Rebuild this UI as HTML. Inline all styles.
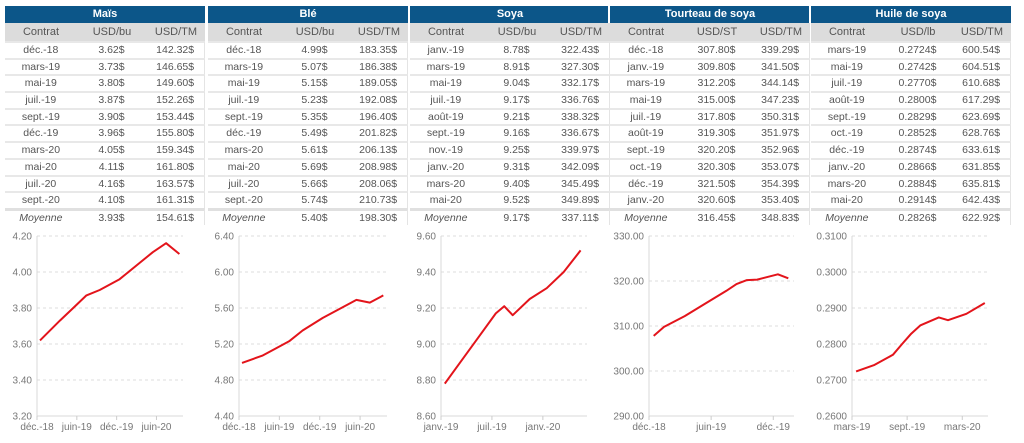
<!DOCTYPE html>
<html><head><meta charset="utf-8">
<style>
body{margin:0;width:1024px;height:443px;background:#fff;font-family:"Liberation Sans",sans-serif;overflow:hidden;position:relative}
.tbl{position:absolute;top:6px;width:200px;font-size:10.5px;color:#555}
.hd{height:17px;background:#0c5689;color:#fff;font-weight:bold;font-size:11px;text-align:center;line-height:17px}
.sh{height:18px;background:#dcdcdc;color:#555;display:flex;line-height:18px;font-size:11px}
.row{height:14.7px;border-top:2px solid #e8e8e8;display:flex;line-height:14.7px;border-right:1px solid #e4e4e4}
.row.avg{border-top:3px solid #e0e0e0;height:14px}
.c1{width:72px;text-align:center}.c2{width:70px;text-align:center}.c3{width:58px;text-align:center}
.avg .c1{font-style:italic}
svg{position:absolute;left:0;top:0}
</style></head><body>
<div id="tables"></div>
<svg id="charts" width="1024" height="443"></svg>
<script>
const tableTitles=["Maïs","Blé","Soya","Tourteau de soya","Huile de soya"];
const tableUnits=["USD/bu","USD/bu","USD/bu","USD/ST","USD/lb"];
const tableLefts=[5,208,410,610,811];
const maisContracts=["déc.-18","mars-19","mai-19","juil.-19","sept.-19","déc.-19","mars-20","mai-20","juil.-20","sept.-20"];
const maisPrice=["3.62$","3.73$","3.80$","3.87$","3.90$","3.96$","4.05$","4.11$","4.16$","4.10$"];
const maisTM=["142.32$","146.65$","149.60$","152.26$","153.44$","155.80$","159.34$","161.80$","163.57$","161.31$"];
const bleContracts=maisContracts;
const blePrice=["4.99$","5.07$","5.15$","5.23$","5.35$","5.49$","5.61$","5.69$","5.66$","5.74$"];
const bleTM=["183.35$","186.38$","189.05$","192.08$","196.40$","201.82$","206.13$","208.98$","208.06$","210.73$"];
const soyaContracts=["janv.-19","mars-19","mai-19","juil.-19","août-19","sept.-19","nov.-19","janv.-20","mars-20","mai-20"];
const soyaPrice=["8.78$","8.91$","9.04$","9.17$","9.21$","9.16$","9.25$","9.31$","9.40$","9.52$"];
const soyaTM=["322.43$","327.30$","332.17$","336.76$","338.32$","336.67$","339.97$","342.09$","345.49$","349.89$"];
const tourContracts=["déc.-18","janv.-19","mars-19","mai-19","juil.-19","août-19","sept.-19","oct.-19","déc.-19","janv.-20"];
const tourPrice=["307.80$","309.80$","312.20$","315.00$","317.80$","319.30$","320.20$","320.30$","321.50$","320.60$"];
const tourTM=["339.29$","341.50$","344.14$","347.23$","350.31$","351.97$","352.96$","353.07$","354.39$","353.40$"];
const huileContracts=["mars-19","mai-19","juil.-19","août-19","sept.-19","oct.-19","déc.-19","janv.-20","mars-20","mai-20"];
const huilePrice=["0.2724$","0.2742$","0.2770$","0.2800$","0.2829$","0.2852$","0.2874$","0.2866$","0.2884$","0.2914$"];
const huileTM=["600.54$","604.51$","610.68$","617.29$","623.69$","628.76$","633.61$","631.85$","635.81$","642.43$"];
const avgPrice=["3.93$","5.40$","9.17$","316.45$","0.2826$"];
const avgTM=["154.61$","198.30$","337.11$","348.83$","622.92$"];

// chart data
const maisMonths=["2018-12","2019-03","2019-05","2019-07","2019-09","2019-12","2020-03","2020-05","2020-07","2020-09"];
const maisValues=[3.62,3.73,3.80,3.87,3.90,3.96,4.05,4.11,4.16,4.10];
const bleMonths=maisMonths;
const bleValues=[4.99,5.07,5.15,5.23,5.35,5.49,5.61,5.69,5.66,5.74];
const soyaMonths=["2019-01","2019-03","2019-05","2019-07","2019-08","2019-09","2019-11","2020-01","2020-03","2020-05"];
const soyaValues=[8.78,8.91,9.04,9.17,9.21,9.16,9.25,9.31,9.40,9.52];
const tourMonths=["2018-12","2019-01","2019-03","2019-05","2019-07","2019-08","2019-09","2019-10","2019-12","2020-01"];
const tourValues=[307.8,309.8,312.2,315.0,317.8,319.3,320.2,320.3,321.5,320.6];
const huileMonths=["2019-03","2019-05","2019-07","2019-08","2019-09","2019-10","2019-12","2020-01","2020-03","2020-05"];
const huileValues=[0.2724,0.2742,0.2770,0.2800,0.2829,0.2852,0.2874,0.2866,0.2884,0.2914];
const maisYTicks=[3.2,3.4,3.6,3.8,4.0,4.2];
const bleYTicks=[4.4,4.8,5.2,5.6,6.0,6.4];
const soyaYTicks=[8.6,8.8,9.0,9.2,9.4,9.6];
const tourYTicks=[290,300,310,320,330];
const huileYTicks=[0.26,0.27,0.28,0.29,0.30,0.31];
const maisXTicks=["2018-12","2019-06","2019-12","2020-06"];
const maisXLabels=["déc.-18","juin-19","déc.-19","juin-20"];
const soyaXTicks=["2019-01","2019-07","2020-01"];
const soyaXLabels=["janv.-19","juil.-19","janv.-20"];
const tourXTicks=["2018-12","2019-06","2019-12"];
const tourXLabels=["déc.-18","juin-19","déc.-19"];
const huileXTicks=["2019-03","2019-09","2020-03"];
const huileXLabels=["mars-19","sept.-19","mars-20"];

const tblData=[[maisContracts,maisPrice,maisTM],[bleContracts,blePrice,bleTM],[soyaContracts,soyaPrice,soyaTM],[tourContracts,tourPrice,tourTM],[huileContracts,huilePrice,huileTM]];
const T=document.getElementById('tables');
tblData.forEach((d,i)=>{
  const t=document.createElement('div');t.className='tbl';t.style.left=tableLefts[i]+'px';
  
  
  let h='<div class="hd">'+tableTitles[i]+'</div>';
  h+='<div class="sh"><div class="c1">Contrat</div><div class="c2">'+tableUnits[i]+'</div><div class="c3">USD/TM</div></div>';
  for(let r=0;r<10;r++){h+='<div class="row"><div class="c1">'+d[0][r]+'</div><div class="c2">'+d[1][r]+'</div><div class="c3">'+d[2][r]+'</div></div>';}
  h+='<div class="row avg"><div class="c1">Moyenne</div><div class="c2">'+avgPrice[i]+'</div><div class="c3">'+avgTM[i]+'</div></div>';
  t.innerHTML=h;T.appendChild(t);
  if(i>0){const s=document.createElement('div');s.style.cssText='position:absolute;top:6px;width:2px;height:17px;background:#fff;left:'+(tableLefts[i]-2)+'px';T.appendChild(s);}
});

const NS='http://www.w3.org/2000/svg';
const S=document.getElementById('charts');
function mk(tag,at,parent){const e=document.createElementNS(NS,tag);for(const k in at)e.setAttribute(k,at[k]);(parent||S).appendChild(e);return e;}
function mnum(s,day){const [y,m]=s.split('-').map(Number);return y*12+(m-1)+(day||0);}
const charts=[
 {left:37,right:183,d0:"2018-12",d1:mnum("2020-10"),months:maisMonths,vals:maisValues,yt:maisYTicks,dec:2,xt:maisXTicks,xl:maisXLabels,name:'mais'},
 {left:239,right:387,d0:"2018-12",d1:mnum("2020-10"),months:bleMonths,vals:bleValues,yt:bleYTicks,dec:2,xt:maisXTicks,xl:maisXLabels,name:'ble'},
 {left:441,right:587,d0:"2019-01",d1:mnum("2020-06",0.2),months:soyaMonths,vals:soyaValues,yt:soyaYTicks,dec:2,xt:soyaXTicks,xl:soyaXLabels,name:'soya'},
 {left:649,right:794,d0:"2018-12",d1:mnum("2020-02"),months:tourMonths,vals:tourValues,yt:tourYTicks,dec:2,xt:tourXTicks,xl:tourXLabels,name:'tourteau'},
 {left:852,right:988,d0:"2019-03",d1:mnum("2020-05",0.8),months:huileMonths,vals:huileValues,yt:huileYTicks,dec:4,xt:huileXTicks,xl:huileXLabels,name:'huile'}
];
const TOP=236,BOT=416;
charts.forEach(c=>{
  const g=mk('g',{});
  
  
  const m0=mnum(c.d0);
  const x=v=>c.left+(v-m0)/(c.d1-m0)*(c.right-c.left);
  const ymin=c.yt[0],ymax=c.yt[c.yt.length-1];
  const y=v=>BOT-(v-ymin)/(ymax-ymin)*(BOT-TOP);
  c.yt.forEach((t,i)=>{
    if(i>0){const gl=mk('line',{x1:c.left,x2:c.right,y1:y(t),y2:y(t),stroke:'#dedede','stroke-dasharray':'3,3'},g);
      
      }
    const tx=mk('text',{x:c.left-5,y:y(t)+3.5,'text-anchor':'end','font-size':'10',fill:'#777','font-family':'Liberation Sans, sans-serif'},g);
    tx.textContent=t.toFixed(c.dec);
    
    
  });
  mk('line',{x1:c.left,x2:c.left,y1:TOP,y2:BOT,stroke:'#d8d8d8'},g);
  mk('line',{x1:c.left,x2:c.right,y1:BOT,y2:BOT,stroke:'#d8d8d8'},g);
  c.xt.forEach((t,i)=>{
    const xx=x(mnum(t));
    mk('line',{x1:xx,x2:xx,y1:BOT,y2:BOT+4,stroke:'#ccc'},g);
    const tx=mk('text',{x:xx,y:BOT+14,'text-anchor':'middle','font-size':'10',fill:'#777','font-family':'Liberation Sans, sans-serif'},g);
    tx.textContent=c.xl[i];
    
    
  });
  const pts=c.months.map((mo,i)=>x(mnum(mo,0.45)).toFixed(1)+','+y(c.vals[i]).toFixed(1)).join(' ');
  const pl=mk('polyline',{points:pts,fill:'none',stroke:'#e3141b','stroke-width':2,'stroke-linejoin':'round'},g);
  
  
});
</script>
</body></html>
